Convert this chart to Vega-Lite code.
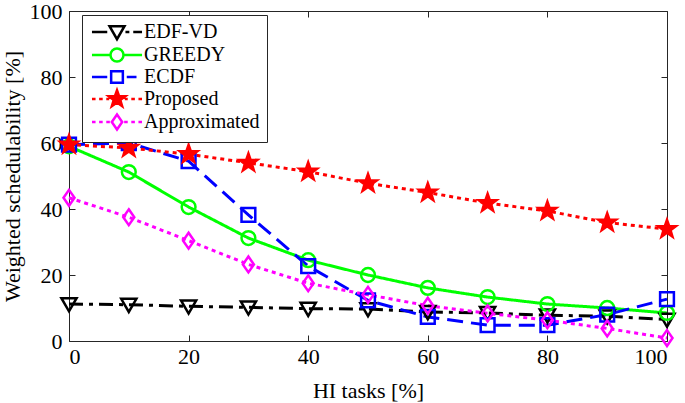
{
  "$schema": "https://vega.github.io/schema/vega-lite/v6.json",
  "autosize": {"type": "none"},
  "width": 598,
  "height": 330,
  "padding": {"left": 69, "top": 11, "right": 18, "bottom": 62},
  "background": "white",
  "config": {
    "font": "Liberation Serif",
    "view": {"stroke": "#262626", "strokeWidth": 1},
    "axis": {"grid": false, "domain": false, "tickColor": "#262626", "tickSize": -6, "labelFont": "Liberation Serif", "titleFont": "Liberation Serif", "labelFontSize": 22, "titleFontSize": 22, "labelColor": "black", "titleColor": "black", "titleFontWeight": "normal"},
    "legend": {"labelFont": "Liberation Serif"}
  },
  "resolve": {
    "axis": {"x": "independent", "y": "independent"},
    "scale": {"color": "independent", "shape": "independent", "fill": "independent"}
  },
  "data": {"values": [
    {"x": 0, "y": 11.2, "s": "EDF-VD"}, {"x": 10, "y": 11.0, "s": "EDF-VD"}, {"x": 20, "y": 10.5, "s": "EDF-VD"}, {"x": 30, "y": 10.2, "s": "EDF-VD"}, {"x": 40, "y": 9.8, "s": "EDF-VD"}, {"x": 50, "y": 9.7, "s": "EDF-VD"}, {"x": 60, "y": 8.8, "s": "EDF-VD"}, {"x": 70, "y": 8.5, "s": "EDF-VD"}, {"x": 80, "y": 7.8, "s": "EDF-VD"}, {"x": 90, "y": 7.5, "s": "EDF-VD"}, {"x": 100, "y": 6.5, "s": "EDF-VD"},
    {"x": 0, "y": 59.0, "s": "GREEDY"}, {"x": 10, "y": 51.2, "s": "GREEDY"}, {"x": 20, "y": 40.6, "s": "GREEDY"}, {"x": 30, "y": 31.2, "s": "GREEDY"}, {"x": 40, "y": 24.5, "s": "GREEDY"}, {"x": 50, "y": 20.0, "s": "GREEDY"}, {"x": 60, "y": 16.1, "s": "GREEDY"}, {"x": 70, "y": 13.3, "s": "GREEDY"}, {"x": 80, "y": 11.2, "s": "GREEDY"}, {"x": 90, "y": 10.0, "s": "GREEDY"}, {"x": 100, "y": 8.5, "s": "GREEDY"},
    {"x": 0, "y": 59.5, "s": "ECDF"}, {"x": 10, "y": 60.0, "s": "ECDF"}, {"x": 20, "y": 54.5, "s": "ECDF"}, {"x": 30, "y": 38.2, "s": "ECDF"}, {"x": 40, "y": 22.7, "s": "ECDF"}, {"x": 50, "y": 12.3, "s": "ECDF"}, {"x": 60, "y": 7.3, "s": "ECDF"}, {"x": 70, "y": 4.8, "s": "ECDF"}, {"x": 80, "y": 4.8, "s": "ECDF"}, {"x": 90, "y": 8.0, "s": "ECDF"}, {"x": 100, "y": 12.7, "s": "ECDF"},
    {"x": 0, "y": 59.5, "s": "Proposed"}, {"x": 10, "y": 58.5, "s": "Proposed"}, {"x": 20, "y": 56.6, "s": "Proposed"}, {"x": 30, "y": 54.0, "s": "Proposed"}, {"x": 40, "y": 51.3, "s": "Proposed"}, {"x": 50, "y": 47.8, "s": "Proposed"}, {"x": 60, "y": 45.0, "s": "Proposed"}, {"x": 70, "y": 41.8, "s": "Proposed"}, {"x": 80, "y": 39.4, "s": "Proposed"}, {"x": 90, "y": 35.9, "s": "Proposed"}, {"x": 100, "y": 33.9, "s": "Proposed"},
    {"x": 0, "y": 43.4, "s": "Approximated"}, {"x": 10, "y": 37.5, "s": "Approximated"}, {"x": 20, "y": 30.4, "s": "Approximated"}, {"x": 30, "y": 23.2, "s": "Approximated"}, {"x": 40, "y": 17.5, "s": "Approximated"}, {"x": 50, "y": 14.0, "s": "Approximated"}, {"x": 60, "y": 10.7, "s": "Approximated"}, {"x": 70, "y": 8.4, "s": "Approximated"}, {"x": 80, "y": 6.3, "s": "Approximated"}, {"x": 90, "y": 3.8, "s": "Approximated"}, {"x": 100, "y": 0.9, "s": "Approximated"}
  ]},
  "layer": [
    {"mark": {"type": "line", "strokeWidth": 3},
      "encoding": {
        "x": {"field": "x", "type": "quantitative", "scale": {"domain": [0, 100], "nice": false},
          "axis": {"values": [0, 20, 40, 60, 80, 100], "title": "HI tasks [%]", "labelPadding": 11, "titlePadding": 13, "labelFont": "Liberation Serif", "titleFont": "Liberation Serif"}},
        "y": {"field": "y", "type": "quantitative", "scale": {"domain": [0, 100], "nice": false},
          "axis": {"values": [0, 20, 40, 60, 80, 100], "title": "Weighted schedulability [%]", "labelPadding": 13, "titlePadding": 5, "labelFont": "Liberation Serif", "titleFont": "Liberation Serif"}},
        "color": {"field": "s", "type": "nominal", "legend": null,
          "scale": {"domain": ["EDF-VD", "GREEDY", "ECDF", "Proposed", "Approximated"], "range": ["black", "#00ff00", "#0000ff", "#ff0000", "#ff00ff"]}},
        "strokeDash": {"field": "s", "type": "nominal", "legend": null,
          "scale": {"domain": ["EDF-VD", "GREEDY", "ECDF", "Proposed", "Approximated"], "range": [[14, 6, 4, 6], [1, 0], [16, 8], [4, 4], [4, 4]]}}}},
    {"mark": {"type": "point", "strokeWidth": 2.5, "size": 190, "opacity": 1},
      "encoding": {
        "x": {"field": "x", "type": "quantitative", "axis": null},
        "y": {"field": "y", "type": "quantitative", "axis": null},
        "color": {"field": "s", "type": "nominal", "legend": null,
          "scale": {"domain": ["EDF-VD", "GREEDY", "ECDF", "Proposed", "Approximated"], "range": ["black", "#00ff00", "#0000ff", "#ff0000", "#ff00ff"]}},
        "shape": {"field": "s", "type": "nominal", "legend": null, "scale": {"domain": ["EDF-VD", "GREEDY", "ECDF", "Proposed", "Approximated"], "range": ["M-1.1,-0.85L1.1,-0.85L0,1.05Z", "circle", "square", "M0,-1.35L0.32,-0.43L1.28,-0.42L0.51,0.16L0.79,1.09L0,0.53L-0.79,1.09L-0.51,0.16L-1.28,-0.42L-0.32,-0.43Z", "M0,-1.15L0.8,0L0,1.15L-0.8,0Z"]}},
        "fill": {"field": "s", "type": "nominal", "legend": null, "scale": {"domain": ["EDF-VD", "GREEDY", "ECDF", "Proposed", "Approximated"], "range": ["transparent", "transparent", "transparent", "#ff0000", "transparent"]}}
      }},
    {"mark": {"type": "point", "opacity": 0},
      "encoding": {
        "x": {"field": "x", "type": "quantitative", "axis": {"orient": "top", "values": [0, 20, 40, 60, 80, 100], "labels": false, "title": null}},
        "y": {"field": "y", "type": "quantitative", "axis": {"orient": "right", "values": [0, 20, 40, 60, 80, 100], "labels": false, "title": null}},
        "color": {"value": "transparent"}
      }},
    {"data": {"values": []},
      "mark": {"type": "point", "strokeWidth": 2.5, "size": 169, "opacity": 1},
      "encoding": {
        "x": {"field": "x", "type": "quantitative", "axis": null},
        "y": {"field": "y", "type": "quantitative", "axis": null},
        "color": {"field": "s", "type": "nominal",
          "scale": {"domain": ["EDF-VD", "GREEDY", "ECDF", "Proposed", "Approximated"], "range": ["black", "#00ff00", "#0000ff", "#ff0000", "#ff00ff"]},
          "legend": {"title": null, "orient": "none", "legendX": 13, "legendY": 4, "labelFontSize": 20, "labelFont": "Liberation Serif", "labelColor": "black", "strokeColor": "#262626", "fillColor": "white", "padding": 7, "rowPadding": -3, "symbolSize": 169, "symbolStrokeWidth": 2.5, "symbolOpacity": 1, "labelOffset": 17, "labelLimit": 300, "symbolOffset": 18}},
        "shape": {"field": "s", "type": "nominal",
          "scale": {"domain": ["EDF-VD", "GREEDY", "ECDF", "Proposed", "Approximated"], "range": [
            "M-3.85,0L-1.5,0M1.3,0L1.9,0M2.5,0L3.85,0M-1.15,-0.9L1.15,-0.9L0,1.1Z",
            "M-3.85,0L-1,0M1,0L3.85,0M1,0A1,1 0 1,1 -1,0A1,1 0 1,1 1,0Z",
            "M-3.85,0L-1.5,0M1.5,0L3.0,0M-0.9,-0.9L0.9,-0.9L0.9,0.9L-0.9,0.9Z",
            "M-3.85,0L-3.3,0M-2.75,0L-2.2,0M-1.65,0L-1.2,0M1.2,0L1.65,0M2.2,0L2.75,0M3.3,0L3.85,0M0,-1.35L0.32,-0.43L1.28,-0.42L0.51,0.16L0.79,1.09L0,0.53L-0.79,1.09L-0.51,0.16L-1.28,-0.42L-0.32,-0.43Z",
            "M-3.85,0L-3.3,0M-2.75,0L-2.2,0M-1.65,0L-1.1,0M1.1,0L1.65,0M2.2,0L2.75,0M3.3,0L3.85,0M0,-1.15L0.8,0L0,1.15L-0.8,0Z"
          ]},
          "legend": {"title": null, "orient": "none", "legendX": 13, "legendY": 4, "labelFontSize": 20, "labelFont": "Liberation Serif", "labelColor": "black", "strokeColor": "#262626", "fillColor": "white", "padding": 7, "rowPadding": -3, "symbolSize": 169, "symbolStrokeWidth": 2.5, "symbolOpacity": 1, "labelOffset": 17, "labelLimit": 300, "symbolOffset": 18}},
        "fill": {"field": "s", "type": "nominal",
          "legend": {"title": null, "orient": "none", "legendX": 13, "legendY": 4, "labelFontSize": 20, "labelFont": "Liberation Serif", "labelColor": "black", "strokeColor": "#262626", "fillColor": "white", "padding": 7, "rowPadding": -3, "symbolSize": 169, "symbolStrokeWidth": 2.5, "symbolOpacity": 1, "labelOffset": 17, "labelLimit": 300, "symbolOffset": 18},
          "scale": {"domain": ["EDF-VD", "GREEDY", "ECDF", "Proposed", "Approximated"], "range": ["transparent", "transparent", "transparent", "#ff0000", "transparent"]}}
      }}
  ]
}
